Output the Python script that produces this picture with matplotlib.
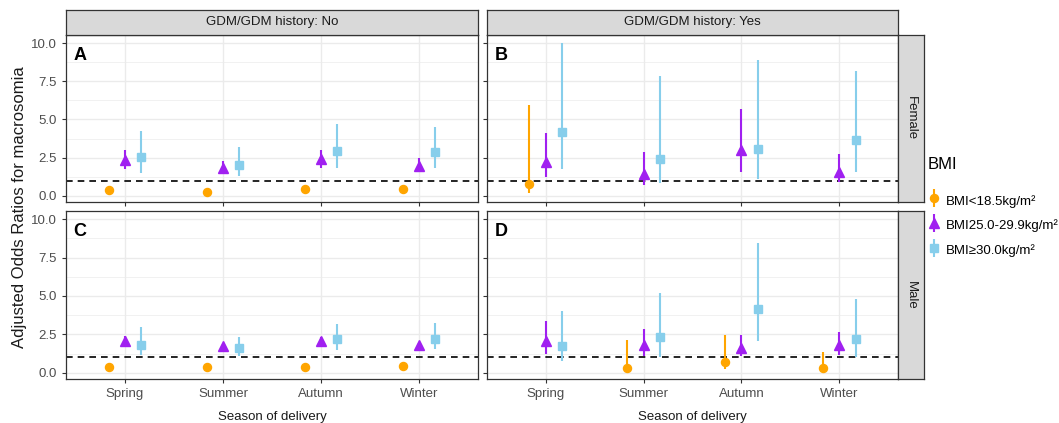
import numpy as np
import matplotlib
matplotlib.use("Agg")
import matplotlib.pyplot as plt
from matplotlib.legend_handler import HandlerErrorbar
from matplotlib.container import ErrorbarContainer

plt.rcParams['font.family'] = ['Liberation Sans', 'DejaVu Sans']

seasons = ['Spring', 'Summer', 'Autumn', 'Winter']
groups = ['BMI<18.5kg/m\u00b2', 'BMI25.0-29.9kg/m\u00b2', 'BMI\u226530.0kg/m\u00b2']
colors = ['#FFA500', '#A020F0', '#87CEEB']
markers = ['o', '^', 's']
msizes = [5.8, 7.5, 6.3]
nan = np.nan

# rows: BMI<18.5, BMI25-29.9, BMI>=30 ; cols: seasons
# A: no GDM, female
a_or = [[0.37, 0.28, 0.44, 0.44], [2.34, 1.84, 2.38, 1.97], [2.55, 1.99, 2.93, 2.84]]
a_lo = [[0.30, 0.22, 0.36, 0.36], [1.75, 1.50, 1.82, 1.53], [1.51, 1.31, 1.79, 1.79]]
a_hi = [[0.45, 0.36, 0.53, 0.53], [2.98, 2.30, 2.98, 2.45], [4.27, 3.19, 4.70, 4.49]]
# B: GDM, female
b_or = [[0.79, nan, nan, nan], [2.21, 1.42, 3.02, 1.53], [4.20, 2.41, 3.04, 3.65]]
b_lo = [[0.15, nan, nan, nan], [1.23, 0.70, 1.53, 0.88], [1.73, 0.81, 1.09, 1.58]]
b_hi = [[5.93, nan, nan, nan], [4.09, 2.84, 5.69, 2.71], [10.04, 7.86, 8.91, 8.21]]
# C: no GDM, male
c_or = [[0.37, 0.39, 0.35, 0.41], [2.06, 1.71, 2.08, 1.80], [1.84, 1.61, 2.17, 2.23]]
c_lo = [[0.30, 0.32, 0.28, 0.34], [1.65, 1.52, 1.82, 1.58], [1.15, 1.08, 1.45, 1.52]]
c_hi = [[0.45, 0.47, 0.43, 0.49], [2.41, 1.88, 2.35, 1.97], [2.99, 2.34, 3.17, 3.25]]
# D: GDM, male
d_or = [[nan, 0.28, 0.72, 0.33], [2.06, 1.82, 1.63, 1.80], [1.74, 2.30, 4.16, 2.23]]
d_lo = [[nan, 0.09, 0.22, 0.10], [1.24, 1.08, 1.08, 1.13], [0.74, 1.04, 2.10, 1.04]]
d_hi = [[nan, 2.15, 2.45, 1.32], [3.34, 2.82, 2.45, 2.67], [4.03, 5.18, 8.44, 4.82]]

panels = [('A', a_or, a_lo, a_hi), ('B', b_or, b_lo, b_hi),
          ('C', c_or, c_lo, c_hi), ('D', d_or, d_lo, d_hi)]
col_titles = ['GDM/GDM history: No', 'GDM/GDM history: Yes']
row_titles = ['Female', 'Male']

W, H = 1059, 423
fig = plt.figure(figsize=(W / 100, H / 100), dpi=100)

def px(x0, y0, x1, y1):
    return [x0 / W, 1 - y1 / H, (x1 - x0) / W, (y1 - y0) / H]

xs = [(66, 478), (487, 898)]
ys = [(35, 202), (211, 379)]

allv = np.array([a_lo, a_hi, b_lo, b_hi, c_lo, c_hi, d_lo, d_hi], dtype=float)
vmin, vmax = np.nanmin(allv), np.nanmax(allv)
pad = 0.05 * (vmax - vmin)
ylim = (vmin - pad, vmax + pad)

edge = '#333333'
dodge = [-1 / 6, 0, 1 / 6]
handles = []
for k, (lab, est, lo, hi) in enumerate(panels):
    r, c = divmod(k, 2)
    ax = fig.add_axes(px(xs[c][0], ys[r][0], xs[c][1], ys[r][1]))
    ax.set_xlim(0.4, 4.6)
    ax.set_ylim(*ylim)
    ax.set_yticks([0, 2.5, 5, 7.5, 10])
    ax.set_yticks([1.25, 3.75, 6.25, 8.75], minor=True)
    ax.set_xticks(np.arange(1, 5))
    ax.grid(True, which='major', color='#EBEBEB', lw=1.0)
    ax.grid(True, which='minor', axis='y', color='#EBEBEB', lw=0.5)
    ax.set_axisbelow(True)
    for s in ax.spines.values():
        s.set_color(edge)
        s.set_linewidth(0.9)
    ax.tick_params(which='major', length=3, color=edge, labelsize=9.5, labelcolor='#4D4D4D', width=0.8)
    ax.tick_params(which='minor', length=0)
    if c == 0:
        ax.set_yticklabels(['0.0', '2.5', '5.0', '7.5', '10.0'])
    else:
        ax.set_yticklabels([])
    if r == 1:
        ax.set_xticklabels(seasons)
        ax.set_xlabel('Season of delivery', fontsize=9.5, color='#1A1A1A', labelpad=8)
    else:
        ax.set_xticklabels([])
    ax.axhline(1, color='black', ls=(0, (4, 3)), lw=1.2, zorder=2)
    x = np.arange(1, 5)
    for g in range(3):
        e = np.array(est[g]); l = np.array(lo[g]); h = np.array(hi[g])
        cont = ax.errorbar(x + dodge[g], e, yerr=[e - l, h - e], fmt=markers[g], color=colors[g],
                           ms=msizes[g], elinewidth=1.5, capsize=0, mec=colors[g], zorder=3,
                           label=groups[g])
        if k == 0:
            handles.append(cont)
    ax.text(0.018, 0.93, lab, transform=ax.transAxes, fontsize=13, fontweight='bold',
            va='top', ha='left')

# column strips
for c in range(2):
    sa = fig.add_axes(px(xs[c][0], 10, xs[c][1], 35))
    sa.set_xticks([]); sa.set_yticks([])
    sa.set_facecolor('#D9D9D9')
    for s in sa.spines.values():
        s.set_color(edge); s.set_linewidth(0.9)
    sa.text(0.5, 0.5, col_titles[c], ha='center', va='center', fontsize=9.5, color='#1A1A1A')
# row strips
for r in range(2):
    sa = fig.add_axes(px(898, ys[r][0], 924, ys[r][1]))
    sa.set_xticks([]); sa.set_yticks([])
    sa.set_facecolor('#D9D9D9')
    for s in sa.spines.values():
        s.set_color(edge); s.set_linewidth(0.9)
    sa.text(0.5, 0.5, row_titles[r], ha='center', va='center', fontsize=9.5, color='#1A1A1A',
            rotation=-90)

fig.text(20 / W, 1 - 207 / H, 'Adjusted Odds Ratios for macrosomia', rotation=90,
         ha='center', va='center', fontsize=12, color='#1A1A1A')

leg = fig.legend(handles=handles, labels=groups, title='BMI', loc='upper left',
                 bbox_to_anchor=(922 / W, 1 - 152 / H), frameon=False, fontsize=9.5,
                 title_fontsize=12, handlelength=1.0, handleheight=1.6, handletextpad=0.4,
                 labelspacing=0.6, borderaxespad=0,
                 handler_map={ErrorbarContainer: HandlerErrorbar(yerr_size=0.7)})
leg._legend_box.align = 'left'
leg._legend_box.sep = 14

fig.savefig('out.png', dpi=100)
